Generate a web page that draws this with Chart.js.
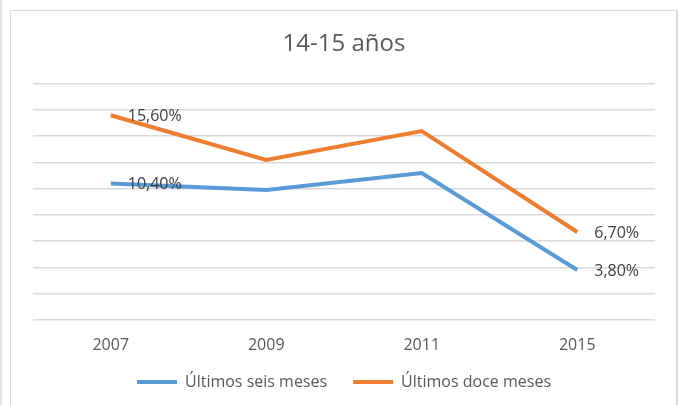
<!DOCTYPE html>
<html>
<head>
<meta charset="utf-8">
<script src="https://cdn.jsdelivr.net/npm/chart.js@4"></script>
<style>
  html,body{margin:0;padding:0;background:#fff;}
  #wrap{position:relative;width:683px;height:405px;overflow:hidden;}
  #frame{position:absolute;left:10px;top:10px;width:665px;height:430px;border:1px solid #dcdcdc;border-right-width:2px;pointer-events:none;}
  #edge{position:absolute;left:0;top:0;width:2px;height:405px;background:#e4e4e4;}
</style>
</head>
<body>
<div id="wrap">
  <canvas id="chart" width="683" height="405"></canvas>
  <div id="frame"></div>
  <div id="edge"></div>
</div>
<script>
/* ---------- Data ---------- */
const YEARS      = ['2007','2009','2011','2015'];
const SEIS_MESES = [10.4, 9.9, 11.2, 3.8];
const DOCE_MESES = [15.6, 12.2, 14.4, 6.7];
const Y_MIN = 0, Y_MAX = 18, Y_STEP = 2;
const LABEL_POINTS = [0, 3];   // only first and last point get a value label

const BLUE   = '#5b9bd5';
const ORANGE = '#ed7d31';
const FONT   = "'Open Sans', 'Liberation Sans', sans-serif";

function fmtPct(v){ return v.toFixed(2).replace('.', ',') + '%'; }

// labels drawn to the right of the chosen points
const pointLabels = {
  id: 'pointLabels',
  afterDatasetsDraw(chart){
    const ctx = chart.ctx;
    ctx.save();
    ctx.font = '16px ' + FONT;
    ctx.fillStyle = '#404040';
    ctx.textAlign = 'left';
    ctx.textBaseline = 'middle';
    chart.data.datasets.forEach((ds, di)=>{
      const meta = chart.getDatasetMeta(di);
      LABEL_POINTS.forEach(i=>{
        const pt = meta.data[i];
        if(!pt) return;
        ctx.fillText(fmtPct(ds.data[i]), pt.x + 17, pt.y + 1);
      });
    });
    ctx.restore();
  }
};

// legend padding is wide (for horizontal spacing), pull the row up a bit
const legendNudge = {
  id: 'legendNudge',
  afterLayout(chart){
    if(!chart.legend) return;
    chart.legend.top -= 15;
    chart.legend.bottom -= 15;
  }
};

new Chart(document.getElementById('chart'), {
  type: 'line',
  data: {
    labels: YEARS,
    datasets: [
      { label: 'Últimos seis meses', data: SEIS_MESES, borderColor: BLUE, backgroundColor: BLUE,
        borderWidth: 4, pointRadius: 0, tension: 0 },
      { label: 'Últimos doce meses', data: DOCE_MESES, borderColor: ORANGE, backgroundColor: ORANGE,
        borderWidth: 4, pointRadius: 0, tension: 0 }
    ]
  },
  options: {
    responsive: false,
    animation: false,
    layout: { padding: { left: 33, right: 28, top: 0, bottom: 0 } },
    plugins: {
      title: {
        display: true,
        text: '14-15 años',
        color: '#595959',
        font: { family: FONT, size: 24, weight: 'normal' },
        padding: { top: 30, bottom: 25 }
      },
      legend: {
        position: 'bottom',
        maxHeight: 42,
        labels: {
          color: '#595959',
          font: { family: FONT, size: 16 },
          boxWidth: 40,
          boxHeight: 4,
          padding: 26,
          generateLabels(chart){
            return chart.data.datasets.map((ds, i)=>({
              text: ds.label, fillStyle: ds.borderColor, strokeStyle: ds.borderColor,
              lineWidth: 0, datasetIndex: i, fontColor: '#595959'
            }));
          }
        }
      },
      tooltip: { enabled: false }
    },
    scales: {
      x: {
        offset: true,
        grid: { display: false },
        border: { display: false },
        ticks: { color: '#595959', font: { family: FONT, size: 16 }, padding: 8 }
      },
      y: {
        min: Y_MIN, max: Y_MAX,
        grid: { color: '#d9d9d9', lineWidth: 1.5, drawTicks: false },
        border: { display: false },
        ticks: { display: false, stepSize: Y_STEP }
      }
    }
  },
  plugins: [pointLabels, legendNudge]
});
</script>
</body>
</html>
